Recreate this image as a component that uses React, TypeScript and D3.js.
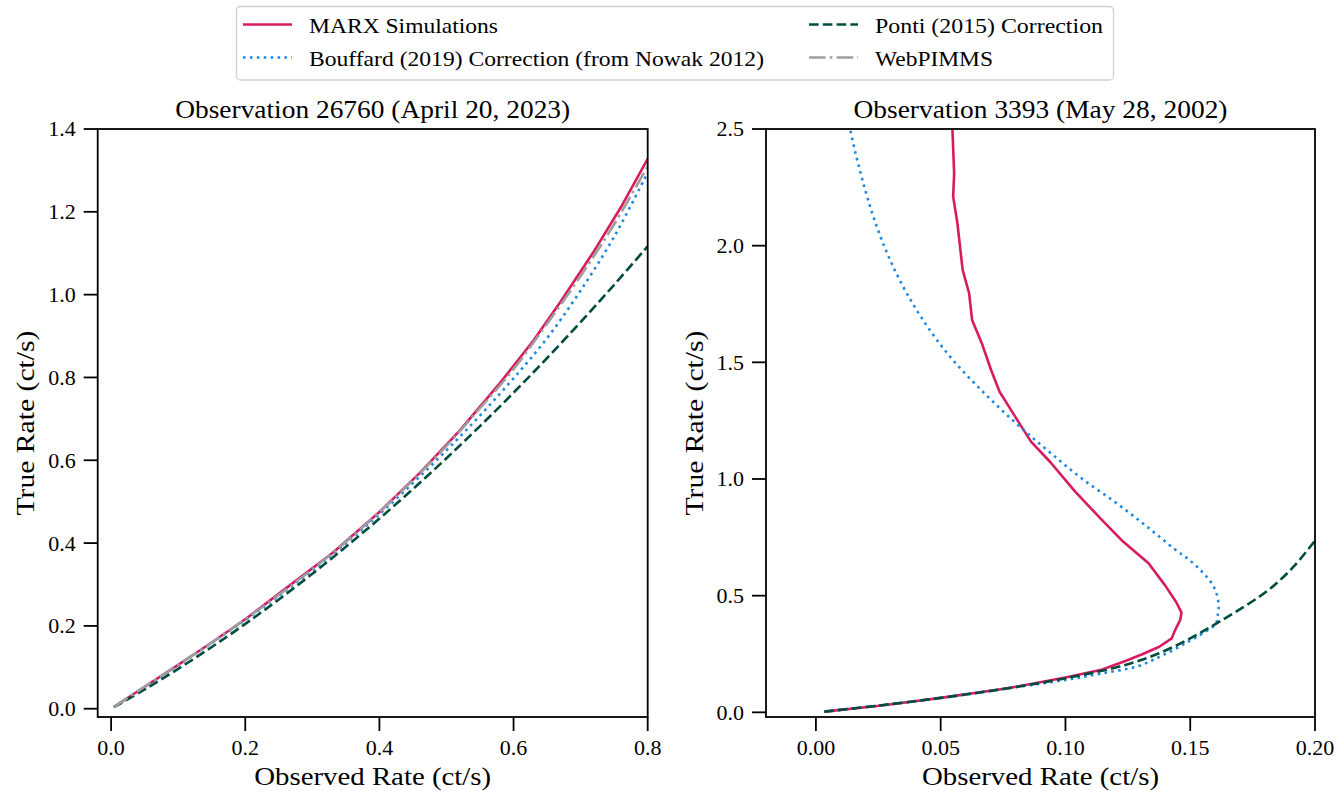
import React from "react";
import * as d3 from "d3";

// ---------- data ----------
// Left panel: Observation 26760
const leftMarxObs = [0.004, 0.05, 0.1, 0.15, 0.2, 0.26, 0.33, 0.4, 0.46, 0.52, 0.58, 0.63, 0.67, 0.72, 0.76, 0.8];
const leftMarxTrue = [0.004, 0.053, 0.106, 0.16, 0.216, 0.29, 0.376, 0.475, 0.569, 0.672, 0.787, 0.89, 0.983, 1.105, 1.211, 1.328];

const leftGridObs = [0.004, 0.05, 0.1, 0.15, 0.2, 0.25, 0.3, 0.35, 0.4, 0.45, 0.5, 0.55, 0.6, 0.65, 0.7, 0.75, 0.8];
const leftBouffardTrue = [0.004, 0.052, 0.105, 0.159, 0.214, 0.273, 0.334, 0.4, 0.47, 0.545, 0.624, 0.708, 0.798, 0.895, 1.01, 1.14, 1.295];
const leftPontiTrue = [0.0036, 0.0466, 0.0962, 0.149, 0.2048, 0.2638, 0.3258, 0.391, 0.4592, 0.5306, 0.605, 0.6826, 0.7632, 0.847, 0.9338, 1.0238, 1.1168];
const leftPimmsTrue = [0.004, 0.053, 0.106, 0.16, 0.216, 0.275, 0.337, 0.403, 0.475, 0.552, 0.635, 0.726, 0.82, 0.93, 1.045, 1.17, 1.31];

// Right panel: Observation 3393
const rightMarxObs = [0.0034, 0.0264, 0.05, 0.0769, 0.1, 0.114, 0.124, 0.1308, 0.1376, 0.1426, 0.1434, 0.1443, 0.146, 0.1465, 0.1443, 0.14, 0.1333, 0.1224, 0.114, 0.1039, 0.0938, 0.0862, 0.0811, 0.0786, 0.0736, 0.0702, 0.0665, 0.0626, 0.0614, 0.0588, 0.0567, 0.055, 0.0554, 0.0547];
const rightMarxTrue = [0.003, 0.029, 0.062, 0.103, 0.149, 0.181, 0.22, 0.249, 0.281, 0.317, 0.339, 0.36, 0.396, 0.427, 0.474, 0.543, 0.639, 0.739, 0.831, 0.946, 1.074, 1.16, 1.246, 1.289, 1.374, 1.467, 1.581, 1.681, 1.796, 1.896, 2.096, 2.21, 2.31, 2.5];

const rightBouffardObs = [0.0034, 0.025, 0.05, 0.075, 0.1, 0.114, 0.1291, 0.1392, 0.1493, 0.1577, 0.1603, 0.1611, 0.1614, 0.1608, 0.1588, 0.155, 0.15, 0.1437, 0.1322, 0.12, 0.1068, 0.0953, 0.0843, 0.074, 0.0645, 0.0557, 0.0482, 0.0418, 0.0362, 0.0314, 0.0273, 0.0238, 0.0208, 0.0182, 0.0158, 0.0137];
const rightBouffardTrue = [0.003, 0.029, 0.061, 0.1, 0.139, 0.166, 0.198, 0.246, 0.303, 0.357, 0.38, 0.42, 0.45, 0.5, 0.55, 0.6, 0.65, 0.7, 0.8, 0.9, 1.0, 1.1, 1.2, 1.3, 1.4, 1.5, 1.6, 1.7, 1.8, 1.9, 2.0, 2.1, 2.2, 2.3, 2.4, 2.5];

const rightPontiObs = [0.0034, 0.025, 0.05, 0.075, 0.1, 0.124, 0.1375, 0.15, 0.1594, 0.1695, 0.1813, 0.1914, 0.2];
const rightPontiTrue = [0.003, 0.029, 0.062, 0.1, 0.146, 0.203, 0.253, 0.317, 0.374, 0.439, 0.524, 0.624, 0.736];

const leftXTicks = [0, 0.2, 0.4, 0.6, 0.8];
const leftYTicks = [0, 0.2, 0.4, 0.6, 0.8, 1.0, 1.2, 1.4];
const rightXTicks = [0, 0.05, 0.1, 0.15, 0.2];
const rightYTicks = [0, 0.5, 1.0, 1.5, 2.0, 2.5];

const legendLabels = [
  "MARX Simulations",
  "Bouffard (2019) Correction (from Nowak 2012)",
  "Ponti (2015) Correction",
  "WebPIMMS",
];

// ---------- styles ----------
const FONT = "'Liberation Serif', 'DejaVu Serif', serif";
const LW = 2.6;
const STYLES: Record<string, { color: string; dash: string; smooth: boolean }> = {
  marx: { color: "#D81B60", dash: "none", smooth: false },
  bouffard: { color: "#1E88E5", dash: "2.6,4.3", smooth: true },
  ponti: { color: "#004D40", dash: "9.6,4.2", smooth: true },
  pimms: { color: "#9e9e9e", dash: "16.6,4.2,2.6,4.2", smooth: true },
};

type Series = { key: string; x: number[]; y: number[] };

type PanelProps = {
  id: string;
  x0: number;
  x1: number;
  y0: number;
  y1: number;
  xDomain: [number, number];
  yDomain: [number, number];
  xTicks: number[];
  yTicks: number[];
  xFmt: (v: number) => string;
  yFmt: (v: number) => string;
  title: string;
  titleLen: number;
  ylabelX: number;
  series: Series[];
};

function Panel(p: PanelProps) {
  const xs = d3.scaleLinear().domain(p.xDomain).range([p.x0, p.x1]);
  const ys = d3.scaleLinear().domain(p.yDomain).range([p.y1, p.y0]);
  const cx = (p.x0 + p.x1) / 2;
  const cy = (p.y0 + p.y1) / 2;
  const TL = 14;
  return (
    <g>
      <defs>
        <clipPath id={p.id}>
          <rect x={p.x0} y={p.y0} width={p.x1 - p.x0} height={p.y1 - p.y0} />
        </clipPath>
      </defs>
      <g clipPath={`url(#${p.id})`}>
        {p.series.map((s) => {
          const pts = s.x.map((v, i) => [v, s.y[i]] as [number, number]);
          const st = STYLES[s.key];
          const line = d3
            .line<[number, number]>()
            .x((d) => xs(d[0]))
            .y((d) => ys(d[1]))
            .curve(st.smooth ? d3.curveCatmullRom.alpha(0.5) : d3.curveLinear);
          return (
            <path
              key={s.key}
              d={line(pts) || ""}
              fill="none"
              stroke={st.color}
              strokeWidth={LW}
              strokeDasharray={st.dash}
              strokeLinejoin="round"
            />
          );
        })}
      </g>
      <rect
        x={p.x0}
        y={p.y0}
        width={p.x1 - p.x0}
        height={p.y1 - p.y0}
        fill="none"
        stroke="#000"
        strokeWidth={1.8}
      />
      {p.xTicks.map((t) => (
        <g key={"x" + t}>
          <line x1={xs(t)} x2={xs(t)} y1={p.y1} y2={p.y1 + TL} stroke="#000" strokeWidth={1.8} />
          <text x={xs(t)} y={755} textAnchor="middle" fontFamily={FONT} fontSize={22}>
            {p.xFmt(t)}
          </text>
        </g>
      ))}
      {p.yTicks.map((t) => (
        <g key={"y" + t}>
          <line x1={p.x0 - TL} x2={p.x0} y1={ys(t)} y2={ys(t)} stroke="#000" strokeWidth={1.8} />
          <text
            x={p.x0 - TL - 8}
            y={ys(t)}
            dy="0.34em"
            textAnchor="end"
            fontFamily={FONT}
            fontSize={22}
          >
            {p.yFmt(t)}
          </text>
        </g>
      ))}
      <text
        x={cx}
        y={118}
        textAnchor="middle"
        fontFamily={FONT}
        fontSize={25.5}
        textLength={p.titleLen}
        lengthAdjust="spacingAndGlyphs"
      >
        {p.title}
      </text>
      <text
        x={cx}
        y={785}
        textAnchor="middle"
        fontFamily={FONT}
        fontSize={25.5}
        textLength={237}
        lengthAdjust="spacingAndGlyphs"
      >
        Observed Rate (ct/s)
      </text>
      <text
        transform={`translate(${p.ylabelX},${cy}) rotate(-90)`}
        textAnchor="middle"
        fontFamily={FONT}
        fontSize={25.5}
        textLength={185}
        lengthAdjust="spacingAndGlyphs"
      >
        True Rate (ct/s)
      </text>
    </g>
  );
}

function Legend() {
  const rows = [24.5, 57.5];
  const lineCols = [243, 809];
  const textCols = [309, 875];
  const entries = [
    { key: "marx", col: 0, row: 0, len: 189 },
    { key: "bouffard", col: 0, row: 1, len: 455 },
    { key: "ponti", col: 1, row: 0, len: 228 },
    { key: "pimms", col: 1, row: 1, len: 118 },
  ];
  return (
    <g>
      <rect x={236.5} y={6.5} width={877} height={73.5} rx={4} fill="#fff" stroke="#d0d0d0" strokeWidth={1.3} />
      {entries.map((e, i) => {
        const st = STYLES[e.key];
        return (
          <g key={e.key}>
            <line
              x1={lineCols[e.col]}
              x2={lineCols[e.col] + 49}
              y1={rows[e.row]}
              y2={rows[e.row]}
              stroke={st.color}
              strokeWidth={LW}
              strokeDasharray={st.dash}
            />
            <text
              x={textCols[e.col]}
              y={rows[e.row] + 8}
              fontFamily={FONT}
              fontSize={22}
              textLength={e.len}
              lengthAdjust="spacingAndGlyphs"
            >
              {legendLabels[i]}
            </text>
          </g>
        );
      })}
    </g>
  );
}

export default function App() {
  const f1 = d3.format(".1f");
  const f2 = d3.format(".2f");
  const leftSeries: Series[] = [
    { key: "marx", x: leftMarxObs, y: leftMarxTrue },
    { key: "bouffard", x: leftGridObs, y: leftBouffardTrue },
    { key: "ponti", x: leftGridObs, y: leftPontiTrue },
    { key: "pimms", x: leftGridObs, y: leftPimmsTrue },
  ];
  const rightSeries: Series[] = [
    { key: "marx", x: rightMarxObs, y: rightMarxTrue },
    { key: "bouffard", x: rightBouffardObs, y: rightBouffardTrue },
    { key: "ponti", x: rightPontiObs, y: rightPontiTrue },
  ];
  return (
    <svg
      width={1340}
      height={791}
      style={{ position: "absolute", left: 0, top: 0, background: "#fff" }}
    >
      <rect x={0} y={0} width={1340} height={791} fill="#fff" />
      <Panel
        id="clipL"
        x0={97.7}
        x1={647.7}
        y0={129}
        y1={717}
        xDomain={[-0.02, 0.8]}
        yDomain={[-0.02, 1.4]}
        xTicks={leftXTicks}
        yTicks={leftYTicks}
        xFmt={f1}
        yFmt={f1}
        title="Observation 26760 (April 20, 2023)"
        titleLen={395}
        ylabelX={34}
        series={leftSeries}
      />
      <Panel
        id="clipR"
        x0={766}
        x1={1315}
        y0={129}
        y1={717}
        xDomain={[-0.02, 0.2]}
        yDomain={[-0.02, 2.5]}
        xTicks={rightXTicks}
        yTicks={rightYTicks}
        xFmt={f2}
        yFmt={f1}
        title="Observation 3393 (May 28, 2002)"
        titleLen={374}
        ylabelX={703}
        series={rightSeries}
      />
      <Legend />
    </svg>
  );
}
